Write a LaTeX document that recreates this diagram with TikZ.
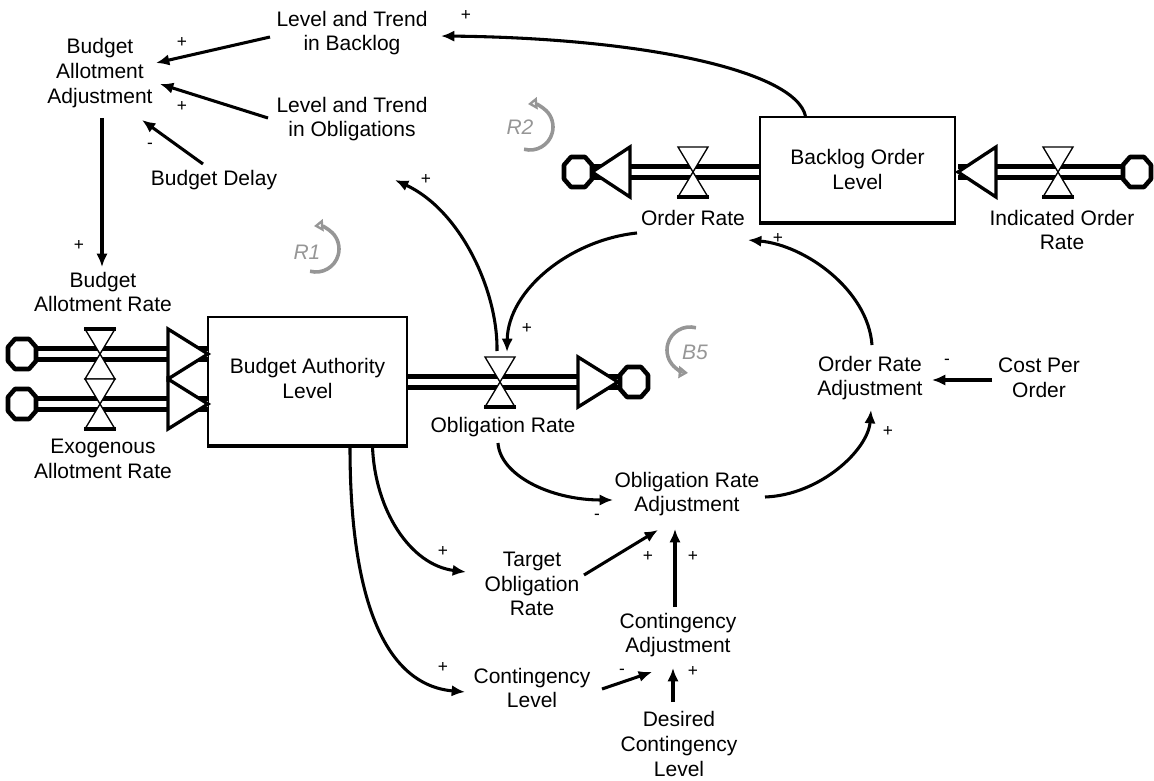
\documentclass[tikz,border=0pt]{standalone}
\usepackage{fontspec}
\setmainfont{Liberation Sans}
\usetikzlibrary{calc,arrows.meta}
\definecolor{loopgray}{RGB}{150,150,150}
\begin{document}
\begin{tikzpicture}[x=0.75pt,y=-0.75pt,
  txt/.style={align=center,inner sep=0pt,font=\fontsize{15.75}{18.5}\selectfont},
  stockbox/.style={draw,line width=1.3pt,fill=white,align=center,inner sep=0pt,font=\fontsize{15.75}{18.5}\selectfont},
  link/.style={line width=2.3pt,-{Latex[length=10pt,width=8.5pt]}},
  sgn/.style={inner sep=0pt,font=\fontsize{13}{13}\selectfont},
  pipe/.style={line width=3.5pt,double=white,double distance=4.6pt},
  loopar/.style={line width=2.7pt,draw=loopgray,-{Triangle[open,length=7pt,width=9pt]}},
  looptxt/.style={text=loopgray,font=\fontsize{15.75}{18}\selectfont\itshape,inner sep=0pt},
  valvebot/.pic={\draw[fill=white,line width=1pt,line join=miter] (-15,-25)--(15,-25)--(-15,25)--(15,25)--cycle;
                 \draw[line width=2.8pt] (-16,25)--(16,25);},
  valvetop/.pic={\draw[fill=white,line width=1pt,line join=miter] (-15,-25)--(15,-25)--(-15,25)--(15,25)--cycle;
                 \draw[line width=2.8pt] (-16,-25)--(16,-25);},
  tipright/.pic={\draw[fill=white,line width=2.5pt,line join=miter] (-40,-25)--(0,0)--(-40,25)--cycle;},
  tipleft/.pic={\draw[fill=white,line width=2.5pt,line join=miter] (38,-25)--(0,0)--(38,25)--cycle;},
  cloudshape/.pic={\draw[fill=white,line width=3.4pt,line join=round] (-14,-7)--(-7,-15)--(7,-15)--(14,-7)--(14,7)--(7,15)--(-7,15)--(-14,7)--cycle;}
]
\useasboundingbox (0,0) rectangle (1154,781);

% ---------- stocks ----------
\node[stockbox,minimum width=149.25pt,minimum height=96pt] (BAL) at (307.5,381)
  {\raisebox{8pt}{\begin{tabular}{@{}c@{}}Budget Authority\\Level\end{tabular}}};
\node[stockbox,minimum width=146.25pt,minimum height=78.75pt] (BOL) at (857.5,169.5) {Backlog Order\\Level};
\draw[line width=2.6pt] (BAL.south west) -- (BAL.south east);
\draw[line width=2.6pt] (BOL.south west) -- (BOL.south east);

% ---------- flow coordinates ----------
\coordinate (vBAR) at (100,354);
\coordinate (vEAR) at (100,404);
\coordinate (vObR) at (500,382);
\coordinate (vOR) at (693,172);
\coordinate (vIOR) at (1058,172);
\coordinate (cBAR) at (22,354);
\coordinate (cEAR) at (22,404);
\coordinate (cObR) at (634,382);
\coordinate (cOR) at (578,172);
\coordinate (cIOR) at (1137,172);
\coordinate (tBAR) at (208,354);
\coordinate (tEAR) at (208,404);
\coordinate (tObR) at (618,382);
\coordinate (tOR) at (592,172);
\coordinate (tIOR) at (958,172);

% pipes
\draw[pipe] (cBAR) -- (tBAR);
\draw[pipe] (cEAR) -- (tEAR);
\draw[pipe] (BAL.east |- vObR) -- (cObR);
\draw[pipe] (BOL.west |- vOR) -- (cOR);
\draw[pipe] (cIOR) -- (tIOR);

% valves, arrowheads, clouds
\path (vBAR) pic {valvetop};
\path (vEAR) pic {valvebot};
\path (vObR) pic {valvebot};
\path (vOR) pic {valvebot};
\path (vIOR) pic {valvebot};
\path (tBAR) pic {tipright};
\path (tEAR) pic {tipright};
\path (tObR) pic {tipright};
\path (tOR) pic {tipleft};
\path (tIOR) pic {tipleft};
\path (cBAR) pic {cloudshape};
\path (cEAR) pic {cloudshape};
\path (cObR) pic {cloudshape};
\path (cOR) pic {cloudshape};
\path (cIOR) pic {cloudshape};

% ---------- variables ----------
\node[txt] (LTB) at (352,33) {Level and Trend\\in Backlog};
\node[txt] (BAA) at (100,73) {Budget\\Allotment\\Adjustment};
\node[txt] (LTO) at (352,119) {Level and Trend\\in Obligations};
\node[txt] (BD) at (214,180) {Budget Delay};
\node[txt] (BAR) at (103,292) {Budget\\Allotment Rate};
\node[txt] (EAR) at (103,459) {Exogenous\\Allotment Rate};
\node[txt] (OR) at (693,218) {Order Rate};
\node[txt] (IOR) at (1062,230) {Indicated Order\\Rate};
\node[txt] (ObR) at (503,427) {Obligation Rate};
\node[txt] (ORA) at (687,494) {Obligation Rate\\Adjustment};
\node[txt] (ORAdj) at (870,378) {Order Rate\\Adjustment};
\node[txt] (CPO) at (1039,378) {Cost Per\\Order};
\node[txt] (TOR) at (532,584) {Target\\Obligation\\Rate};
\node[txt] (CL) at (532,688) {Contingency\\Level};
\node[txt] (CA) at (678,635) {Contingency\\Adjustment};
\node[txt] (DCL) at (679,744) {Desired\\Contingency\\Level};

% ---------- links ----------
\draw[link] ($(LTB)+(-82,4)$) -- ($(BAA)+(56,-10)$);
\draw[link] ($(LTO)+(-84,-1)$) -- ($(BAA)+(60,11)$);
\draw[link] ($(BD)+(-11,-16)$) -- ($(BAA)+(42,47)$);
\draw[link] ($(BAA)+(2,45)$) -- ($(BAR)+(-1,-25)$);
\draw[link] ($(BOL.north)+(-52,0)$) .. controls (795,70) and (640,38) .. ($(LTB)+(89,3)$);
\draw[link] ($(vObR)+(-3,-31)$) .. controls (498,290) and (460,210) .. ($(LTO)+(43,61)$);
\draw[link] ($(OR)+(-56,15)$) .. controls (570,240) and (508,290) .. ($(vObR)+(7,-30)$);
\draw[link] ($(ObR)+(-5,16)$) .. controls (500,475) and (550,500) .. ($(ORA)+(-74,6)$);
\draw[link] ($(ORA)+(78,3)$) .. controls (820,495) and (868,450) .. ($(ORAdj)+(1,32)$);
\draw[link] ($(ORAdj)+(2,-33)$) .. controls (868,290) and (805,245) .. ($(OR)+(55,22)$);
\draw[link] ($(CPO)+(-47,2)$) -- ($(ORAdj)+(62,2)$);
\draw[link] ($(BAL.south)+(65,1)$) .. controls (375,510) and (410,565) .. ($(TOR)+(-66,-12)$);
\draw[link] ($(BAL.south)+(42.5,1)$) .. controls (350,600) and (385,685) .. ($(CL)+(-67,4)$);
\draw[link] ($(TOR)+(52,-9)$) -- ($(ORA)+(-29,36)$);
\draw[link] ($(CA)+(-3,-28)$) -- ($(ORA)+(-12,35)$);
\draw[link] ($(CL)+(70,1)$) -- ($(CA)+(-26,37)$);
\draw[link] ($(DCL)+(-6,-42)$) -- ($(CA)+(-5,33)$);

% ---------- polarities ----------
\node[sgn] (s1) at (182,43) {+};
\node[sgn] (s2) at (182,106) {+};
\node[sgn] (s3) at (150,146) {-};
\node[sgn] (s4) at (79,245) {+};
\node[sgn] (s5) at (466,16) {+};
\node[sgn] (s6) at (426,179) {+};
\node[sgn] (s7) at (527,328) {+};
\node[sgn] (s8) at (597,517) {-};
\node[sgn] (s9) at (888,431) {+};
\node[sgn] (s10) at (778,238) {+};
\node[sgn] (s11) at (947,362) {-};
\node[sgn] (s12) at (443,551) {+};
\node[sgn] (s13) at (443,667) {+};
\node[sgn] (s14) at (648,556) {+};
\node[sgn] (s15) at (693,556) {+};
\node[sgn] (s16) at (622,672) {-};
\node[sgn] (s17) at (693,671) {+};

% ---------- loop markers ----------
\coordinate (R1c) at (316,249);
\coordinate (R2c) at (530,127);
\coordinate (B5c) at (690,350);
\draw[loopar] ($(R1c)+(105:23)$) arc[start angle=105,end angle=-95,radius=23];
\draw[loopar] ($(R2c)+(105:23)$) arc[start angle=105,end angle=-95,radius=23];
\draw[loopar] ($(B5c)+(-75:23)$) arc[start angle=-75,end angle=-265,radius=23];
\node[looptxt] (R1) at (307,252) {R1};
\node[looptxt] (R2) at (520,127) {R2};
\node[looptxt] (B5) at (695,352) {B5};
\end{tikzpicture}
\end{document}
